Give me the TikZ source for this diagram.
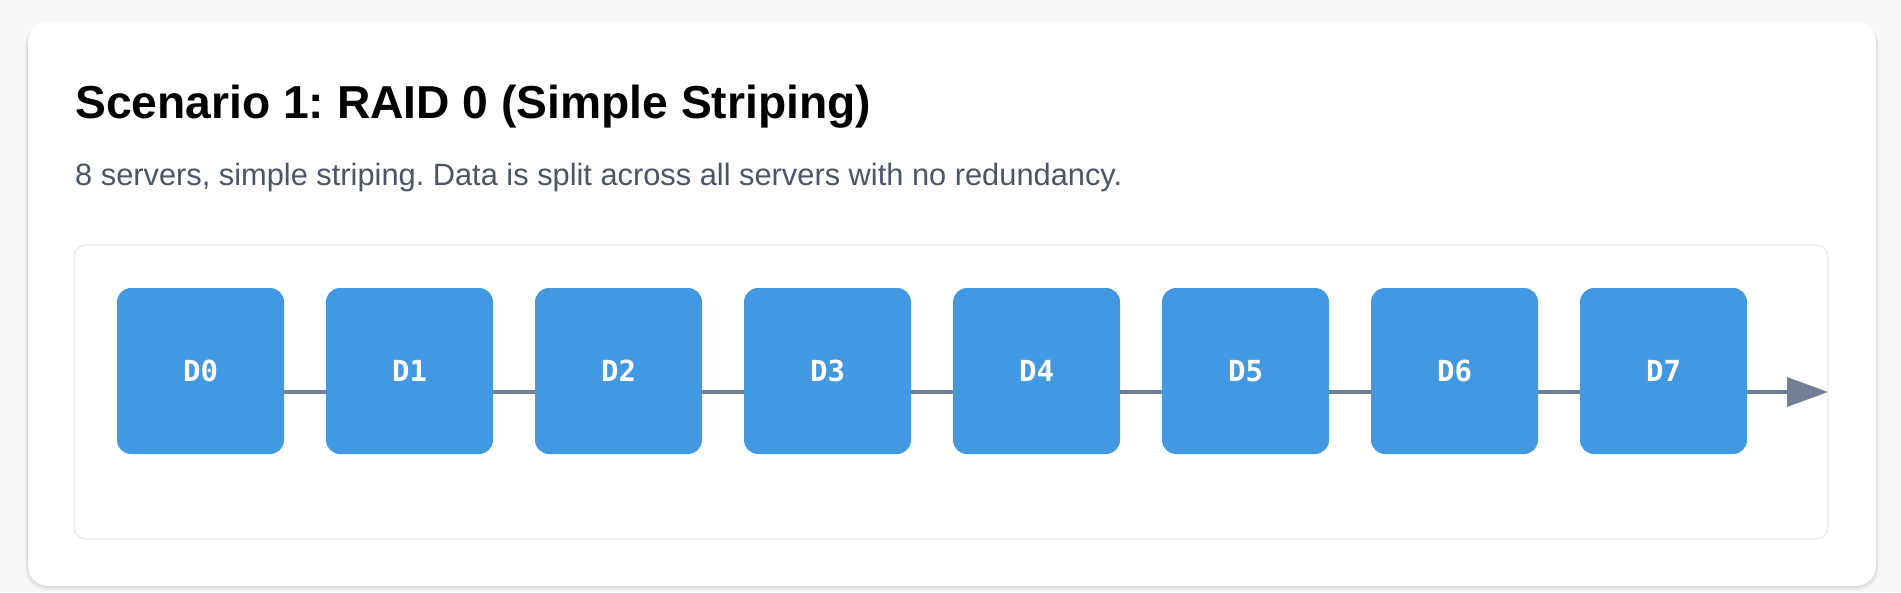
\documentclass[tikz,border=0pt]{standalone}
\usepackage{fontspec}
\setmainfont{Liberation Sans}
\newfontfamily\monobold{DejaVu Sans Mono}
\usetikzlibrary{arrows.meta}
\definecolor{pagebg}{HTML}{F7F8FA}
\definecolor{cardborder}{HTML}{E2E8F0}
\definecolor{diskblue}{HTML}{4299E1}
\definecolor{linegray}{HTML}{718096}
\definecolor{subtext}{HTML}{4A5568}
\pgfdeclarelayer{bg}
\pgfdeclarelayer{mid}
\pgfsetlayers{bg,mid,main}
\tikzset{
  disk/.style={fill=diskblue, rounded corners=14pt, minimum width=167pt, minimum height=166pt,
    inner sep=0pt, text=white, font=\monobold\bfseries\fontsize{29}{32}\selectfont},
  flowline/.style={draw=linegray, line width=3.6pt, -{Triangle[length=41pt,width=29pt]}},
}
\frenchspacing
\begin{document}
\begin{tikzpicture}[x=1pt,y=-1pt]
\useasboundingbox (0,0) rectangle (1901,592);
\begin{pgfonlayer}{bg}
  \fill[pagebg] (0,0) rectangle (1901,592);
  % card shadow
  \foreach \i/\o in {1/0.035,2/0.03,3/0.025,4/0.02,5/0.015,6/0.01}{
    \fill[black, opacity=\o, rounded corners=22pt] (28-\i*0.6,22+\i*0.5) rectangle (1876+\i*0.6,586+\i*0.9);
  }
  \fill[white, rounded corners=20pt] (28,22) rectangle (1876,586);
  \draw[cardborder, line width=1.2pt, fill=white, rounded corners=12pt] (74,245) rectangle (1828,539);
\end{pgfonlayer}
\node[anchor=base west, inner sep=0pt, font=\bfseries\fontsize{46.2}{50}\selectfont] (title) at (75,118) {Scenario 1: RAID 0 (Simple Striping)};
\node[anchor=base west, inner sep=0pt, text=subtext, font=\fontsize{30.8}{34}\selectfont] (sub) at (75,185) {8 servers, simple striping. Data is split across all servers with no redundancy.};
\foreach \k in {0,...,7}{
  \node[disk] (D\k) at (200.5+\k*209,371) {D\k};
}
\coordinate (tip) at (1828,392);
\begin{pgfonlayer}{mid}
  \draw[flowline] ([yshift=-21pt]D0.west) -- (tip);
\end{pgfonlayer}
\end{tikzpicture}
\end{document}
